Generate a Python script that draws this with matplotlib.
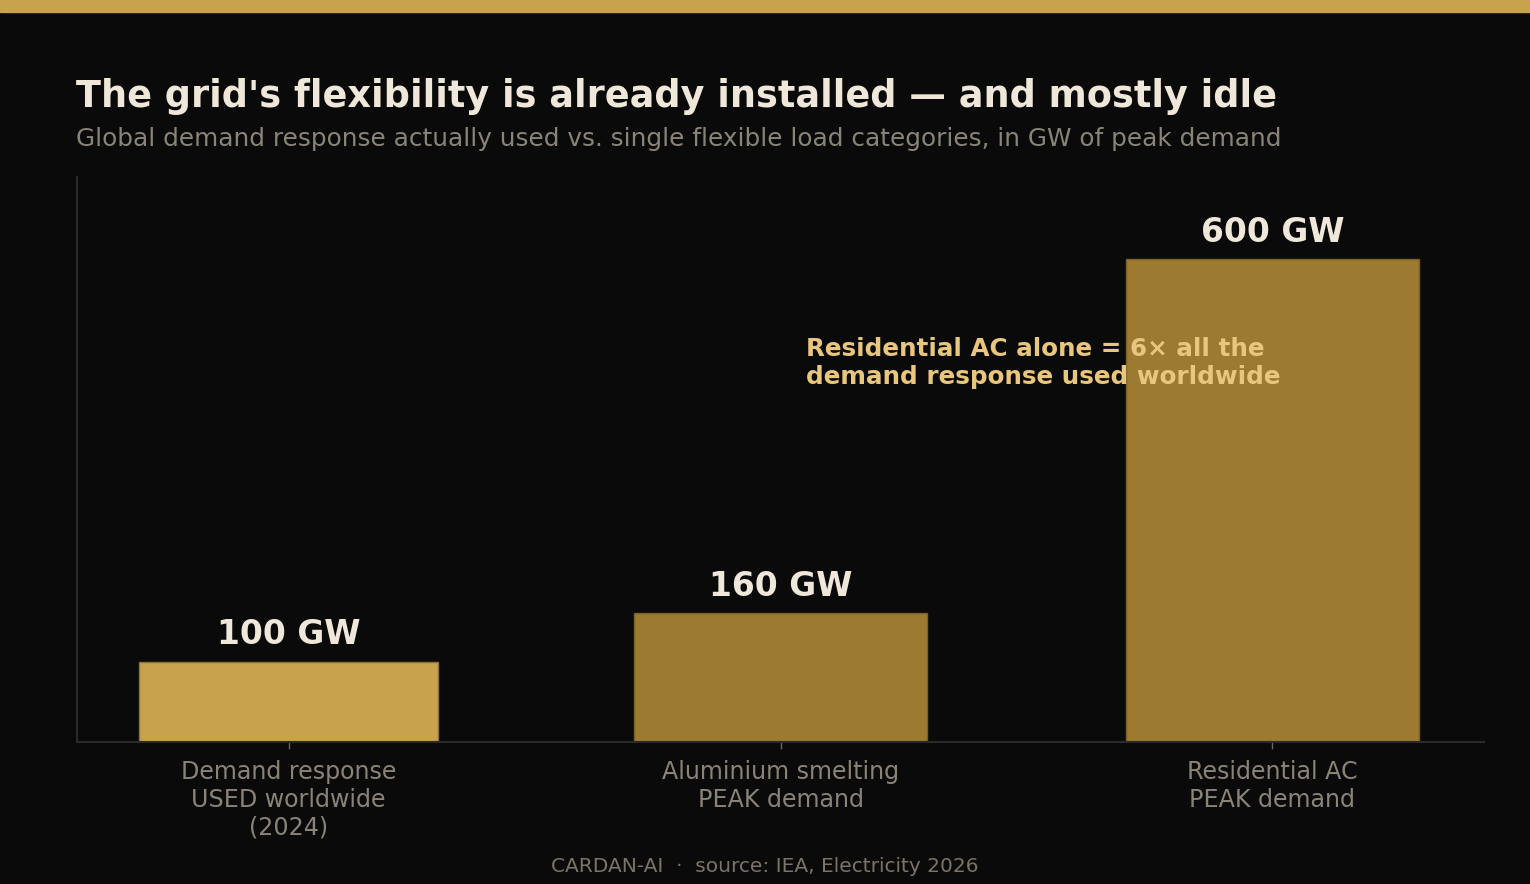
import matplotlib.pyplot as plt
from matplotlib.patches import Rectangle

plt.rcParams['font.family'] = ['DejaVu Sans']

# data
categories = ["Demand response\nUSED worldwide\n(2024)",
              "Aluminium smelting\nPEAK demand",
              "Residential AC\nPEAK demand"]
values_gw = [100, 160, 600]
value_labels = ["100 GW", "160 GW", "600 GW"]

BG = "#0a0a0a"
GOLD = "#c9a24d"
GOLD_DARK = "#9c7a30"
CREAM = "#efe8da"
GREY = "#8a8478"
bar_colors = [GOLD, GOLD_DARK, GOLD_DARK]
edge_colors = ["#8c7236", "#7a5f26", "#7a5f26"]
bar_widths = [0.606, 0.595, 0.595]

fig = plt.figure(figsize=(15.3, 8.84), dpi=100, facecolor=BG)
ax = fig.add_axes([77 / 1530, 1 - 742 / 884, (1484 - 77) / 1530, (742 - 177) / 884])
ax.set_facecolor(BG)

x = range(len(values_gw))
bars = ax.bar(x, values_gw, width=bar_widths, color=bar_colors, edgecolor=edge_colors,
              linewidth=1, zorder=2)

for xi, v, lab in zip(x, values_gw, value_labels):
    ax.annotate(lab, (xi, v), xytext=(0, 12.5), textcoords="offset points",
                ha="center", va="baseline", fontsize=23.7, fontweight="bold", color=CREAM)

ax.text(1.051, 471, "Residential AC alone = 6\u00d7 all the\ndemand response used worldwide",
        ha="left", va="center", fontsize=17.75, fontweight="bold", color="#e8c67e",
        linespacing=1.2, zorder=5)

ax.set_ylim(0, 702)
ax.set_xlim(-0.43, 2.43)
ax.set_xticks(list(x))
ax.set_xticklabels(categories, fontsize=17.1, color=GREY, linespacing=1.2)
ax.tick_params(axis="x", colors="#6a655c", length=5, width=1, pad=8, labelcolor=GREY)
ax.set_yticks([])
for s in ["top", "right"]:
    ax.spines[s].set_visible(False)
for s in ["left", "bottom"]:
    ax.spines[s].set_color("#2a2a2a")
    ax.spines[s].set_linewidth(1.5)

# header strip
fig.patches.append(Rectangle((0, 1 - 12 / 884), 1, 12 / 884, transform=fig.transFigure,
                             color=GOLD, zorder=0))

fig.text(76 / 1530, 1 - 107 / 884, "The grid's flexibility is already installed \u2014 and mostly idle",
         fontsize=26.4, fontweight="bold", color=CREAM, va="baseline", ha="left")
fig.text(76 / 1530, 1 - 146 / 884,
         "Global demand response actually used vs. single flexible load categories, in GW of peak demand",
         fontsize=17.85, color=GREY, va="baseline", ha="left")
fig.text(0.5, 1 - 867 / 884, "CARDAN-AI  \u00b7  source: IEA, Electricity 2026",
         fontsize=14.5, color="#7a7468", va="center", ha="center")

fig.savefig("out.png", dpi=100, facecolor=BG)
